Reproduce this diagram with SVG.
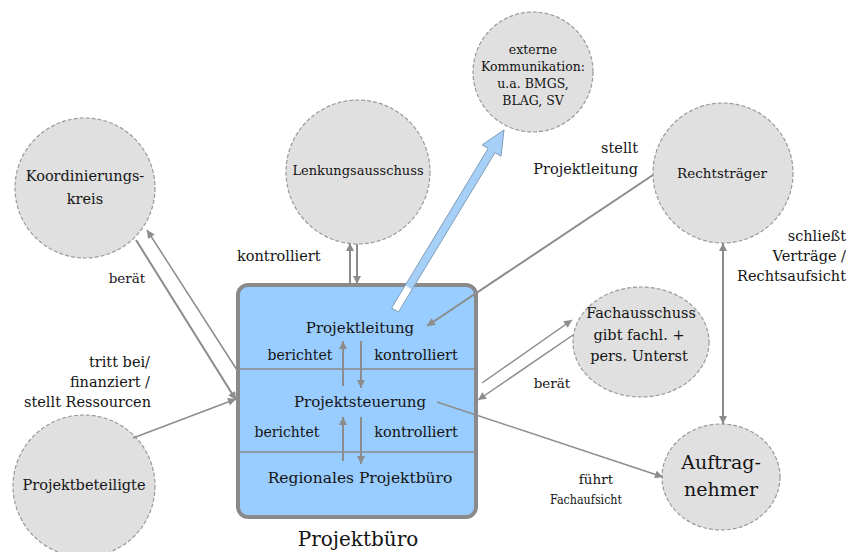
<svg xmlns="http://www.w3.org/2000/svg" width="852" height="552" viewBox="0 0 852 552">
<style>
  .bg{fill:#ffffff}
  .node{fill:#e0e0e0;stroke:#9a9a9a;stroke-width:1.2;stroke-dasharray:4 2}
  .box{fill:#99ccff;stroke:#8a8a8a;stroke-width:4}
  .div{stroke:#8a8a8a;stroke-width:1.5}
  .t{font-family:"DejaVu Serif","Liberation Serif",serif;fill:#141414;text-anchor:middle}
  .l{font-family:"DejaVu Serif","Liberation Serif",serif;fill:#141414}
  .c{stroke:#8c8c8c;stroke-width:2;fill:none}
  .c2{stroke:#8c8c8c;stroke-width:1.5;fill:none}
  .end{text-anchor:end}
  .mid{text-anchor:middle}
</style>
<defs>
  <marker id="ah" viewBox="0 0 10 10" refX="10" refY="5" markerWidth="9" markerHeight="8" markerUnits="userSpaceOnUse" orient="auto">
    <path d="M0,0 L10,5 L0,10 z" fill="#8c8c8c"/>
  </marker>
  <linearGradient id="bg1" gradientUnits="userSpaceOnUse" x1="395" y1="310" x2="504" y2="130">
    <stop offset="0" stop-color="#ffffff"/>
    <stop offset="0.12" stop-color="#ffffff"/>
    <stop offset="0.13" stop-color="#a6d0f8"/>
    <stop offset="1" stop-color="#a6d0f8"/>
  </linearGradient>
</defs>
<rect class="bg" x="0" y="0" width="852" height="552"/>

<g id="externe-kommunikation">
  <circle class="node" cx="533" cy="72" r="60"/>
  <text class="t" font-size="12.5" x="533" y="54">externe</text>
  <text class="t" font-size="12.5" x="533" y="71">Kommunikation:</text>
  <text class="t" font-size="12.5" x="533" y="88">u.a. BMGS,</text>
  <text class="t" font-size="12.5" x="533" y="105">BLAG, SV</text>
</g>

<g id="lenkungsausschuss">
  <circle class="node" cx="358" cy="172" r="72"/>
  <text class="t" font-size="13" x="358" y="175">Lenkungsausschuss</text>
</g>

<g id="koordinierungskreis">
  <circle class="node" cx="85" cy="188" r="70"/>
  <text class="t" font-size="14.5" x="85" y="181">Koordinierungs-</text>
  <text class="t" font-size="14.5" x="85" y="204">kreis</text>
</g>

<g id="rechtstraeger">
  <circle class="node" cx="723" cy="173" r="70"/>
  <text class="t" font-size="13.5" x="722" y="178">Rechtsträger</text>
</g>

<g id="fachausschuss">
  <ellipse class="node" cx="641" cy="342" rx="68" ry="55"/>
  <text class="t" font-size="14.5" x="641" y="318">Fachausschuss</text>
  <text class="t" font-size="14.5" x="639" y="340">gibt fachl. +</text>
  <text class="t" font-size="14.5" x="639" y="361">pers. Unterst</text>
</g>

<g id="projektbeteiligte">
  <circle class="node" cx="84" cy="486" r="71"/>
  <text class="t" font-size="14.5" x="84" y="490">Projektbeteiligte</text>
</g>

<g id="auftragnehmer">
  <ellipse class="node" cx="721" cy="477" rx="59" ry="53"/>
  <text class="t" font-size="19" x="721" y="469">Auftrag-</text>
  <text class="t" font-size="19" x="721" y="496">nehmer</text>
</g>

<g id="projektbuero">
  <rect class="box" x="238" y="285" width="238" height="232" rx="10" ry="10"/>
  <line class="div" x1="238" y1="369" x2="476" y2="369"/>
  <line class="div" x1="238" y1="452" x2="476" y2="452"/>
  <text class="t" font-size="15" x="360" y="333">Projektleitung</text>
  <text class="t" font-size="15" x="360" y="407">Projektsteuerung</text>
  <text class="t" font-size="15.5" x="360" y="483">Regionales Projektbüro</text>
  <text class="t" font-size="14" x="300" y="360">berichtet</text>
  <text class="t" font-size="14.5" x="416" y="360">kontrolliert</text>
  <text class="t" font-size="14" x="287" y="437">berichtet</text>
  <text class="t" font-size="14.5" x="416" y="437">kontrolliert</text>
  <text class="t" font-size="20" x="358" y="546">Projektbüro</text>
</g>

<g id="connectors">
  <line class="c" x1="343" y1="386" x2="343" y2="341" marker-end="url(#ah)"/>
  <line class="c" x1="361" y1="341" x2="361" y2="388" marker-end="url(#ah)"/>
  <line class="c" x1="343" y1="461" x2="343" y2="417" marker-end="url(#ah)"/>
  <line class="c" x1="361" y1="417" x2="361" y2="464" marker-end="url(#ah)"/>
  <line class="c" x1="350" y1="283" x2="350" y2="243" marker-end="url(#ah)"/>
  <line class="c" x1="357" y1="244" x2="357" y2="284" marker-end="url(#ah)"/>
  <line class="c" x1="136" y1="240" x2="236" y2="400" marker-end="url(#ah)"/>
  <line class="c2" x1="237" y1="370" x2="147" y2="230" marker-end="url(#ah)"/>
  <line class="c2" x1="133" y1="438" x2="236" y2="399" marker-end="url(#ah)"/>
  <line class="c" x1="653" y1="175" x2="427" y2="326" marker-end="url(#ah)"/>
  <line class="c" x1="723" y1="330" x2="723" y2="243" marker-end="url(#ah)"/>
  <line class="c" x1="723" y1="330" x2="723" y2="424" marker-end="url(#ah)"/>
  <line class="c2" x1="482" y1="383" x2="572" y2="320" marker-end="url(#ah)"/>
  <line class="c2" x1="573" y1="335" x2="478" y2="400" marker-end="url(#ah)"/>
  <line class="c2" x1="437" y1="402" x2="663" y2="477" marker-end="url(#ah)"/>
  <polygon points="391.6,307.9 488.2,148.4 482.2,144.8 504,130 501,156.2 495,152.6 398.4,312.1" fill="url(#bg1)" stroke="#7f9cb8" stroke-width="1"/>
</g>

<g id="labels">
  <text class="l" font-size="14.5" x="237" y="261">kontrolliert</text>
  <text class="l mid" font-size="13.5" x="127" y="283">berät</text>
  <text class="l end" font-size="14.5" x="638" y="153">stellt</text>
  <text class="l end" font-size="14.5" x="638" y="174">Projektleitung</text>
  <text class="l end" font-size="14.5" x="846" y="241">schließt</text>
  <text class="l end" font-size="14.5" x="846" y="261">Verträge /</text>
  <text class="l end" font-size="14.5" x="846" y="281">Rechtsaufsicht</text>
  <text class="l end" font-size="14.5" x="150" y="367">tritt bei/</text>
  <text class="l end" font-size="14.5" x="150" y="387">finanziert /</text>
  <text class="l end" font-size="14.5" x="151" y="407">stellt Ressourcen</text>
  <text class="l mid" font-size="13.5" x="552" y="388">berät</text>
  <text class="l mid" font-size="13.5" x="596" y="484">führt</text>
  <text class="l mid" font-size="13" x="586" y="504" textLength="72" lengthAdjust="spacingAndGlyphs">Fachaufsicht</text>
</g>
</svg>
